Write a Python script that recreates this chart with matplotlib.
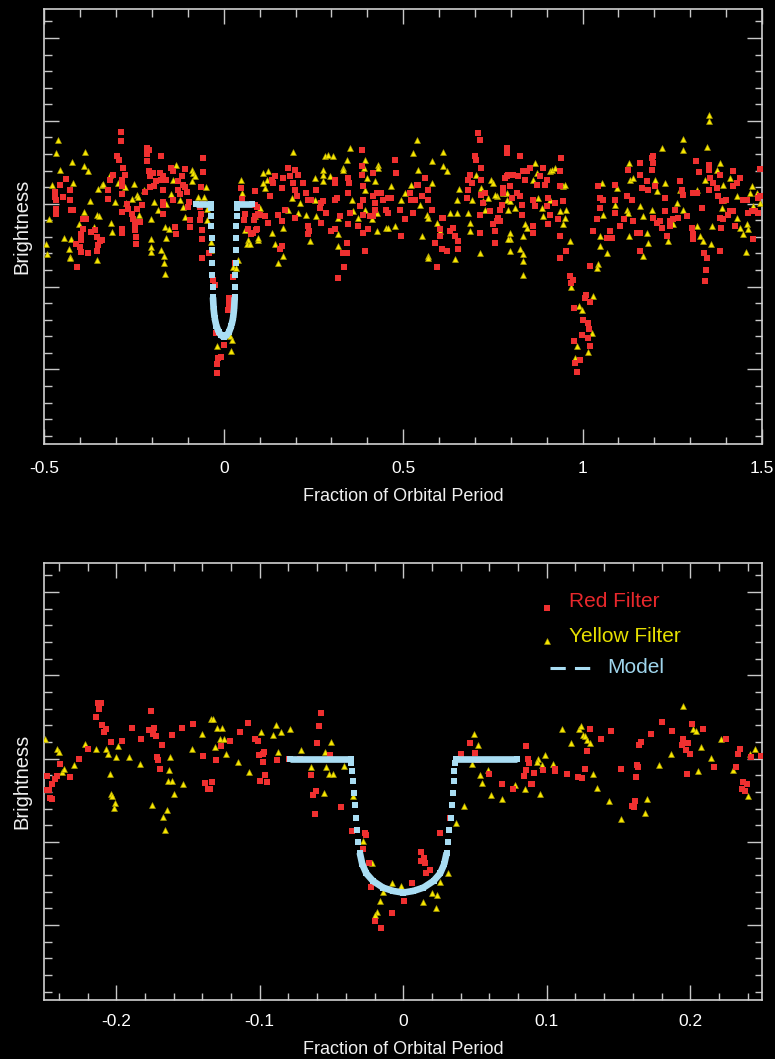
import matplotlib
matplotlib.use('Agg')
import matplotlib.pyplot as plt
import numpy as np
from matplotlib.collections import LineCollection
from matplotlib.ticker import MultipleLocator, FuncFormatter

plt.rcParams['axes.unicode_minus'] = False
REG = ['Liberation Sans', 'DejaVu Sans']

# ---------------- data: top panel (full phase range) ----------------
top_red = [
    (-0.287, 1.086), (-0.287, 1.076), (-0.299, 1.057), (-0.293, 1.053), (-0.215, 1.067), (-0.210, 1.065),
    (-0.213, 1.060), (-0.215, 1.051), (-0.176, 1.058), (-0.059, 1.055), (-0.059, 1.038), (-0.209, 1.040),
    (-0.206, 1.033), (-0.197, 1.037), (-0.178, 1.037), (-0.169, 1.033), (-0.160, 1.029), (-0.147, 1.043),
    (-0.141, 1.040), (-0.109, 1.042), (-0.118, 1.033), (-0.127, 1.027), (-0.109, 1.020), (-0.104, 1.014),
    (-0.098, 1.002), (-0.099, 0.996), (-0.095, 0.980), (-0.095, 0.972), (-0.067, 0.980), (-0.062, 0.968),
    (-0.062, 0.958), (-0.062, 0.934), (-0.042, 0.941), (-0.439, 1.030), (-0.457, 1.023), (-0.471, 1.014),
    (-0.471, 1.008), (-0.467, 1.004), (-0.448, 1.008), (-0.429, 1.016), (-0.428, 1.004), (-0.425, 0.992),
    (-0.420, 0.992), (-0.467, 0.994), (-0.468, 0.988), (-0.392, 0.982), (-0.385, 0.982), (-0.394, 0.970),
    (-0.397, 0.964), (-0.399, 0.956), (-0.411, 0.952), (-0.401, 0.948), (-0.397, 0.942), (-0.378, 0.941),
    (-0.408, 0.924), (-0.369, 0.966), (-0.360, 0.968), (-0.355, 0.960), (-0.346, 0.955), (-0.340, 0.956),
    (-0.350, 0.950), (-0.353, 0.943), (-0.322, 1.006), (-0.322, 1.016), (-0.318, 1.029), (-0.309, 1.035),
    (-0.285, 1.029), (-0.281, 1.043), (-0.276, 1.035), (-0.284, 1.022), (-0.283, 1.012), (-0.271, 1.000),
    (-0.283, 0.990), (-0.267, 0.994), (-0.257, 0.988), (-0.253, 0.982), (-0.248, 0.976), (-0.239, 0.978),
    (-0.234, 0.978), (-0.248, 0.968), (-0.245, 0.960), (-0.245, 0.951), (-0.283, 0.970), (-0.283, 0.965),
    (-0.227, 0.998), (-0.243, 0.994), (-0.220, 1.014), (-0.206, 1.020), (-0.195, 1.022), (-0.188, 1.027),
    (-0.174, 1.029), (-0.169, 1.016), (-0.171, 1.002), (-0.171, 0.988), (-0.169, 0.998), (-0.141, 1.004),
    (-0.137, 0.972), (-0.134, 0.964), (-0.127, 1.016), (-0.123, 1.012), (-0.115, 1.023), (-0.067, 0.996),
    (-0.064, 0.988), (-0.058, 1.000), (-0.064, 1.020),
    (-0.030, 0.908), (-0.025, 0.902), (-0.022, 0.844), (-0.016, 0.814), (-0.020, 0.806), (-0.018, 0.796),
    (-0.009, 0.815), (0.000, 0.830), (0.015, 0.886), (0.013, 0.879), (0.011, 0.872), (0.026, 0.912),
    (0.031, 0.928),
    (0.047, 1.019), (0.086, 1.015), (0.051, 1.006), (0.057, 0.980), (0.059, 0.988), (0.068, 0.969),
    (0.077, 0.964), (0.084, 0.980), (0.089, 0.968), (0.091, 0.996), (0.096, 0.988),
    (0.086, 0.999), (0.086, 0.985), (0.082, 0.965), (0.091, 0.969), (0.100, 0.987), (0.114, 0.985),
    (0.124, 0.977), (0.128, 1.009), (0.133, 1.029), (0.142, 1.033), (0.138, 1.025), (0.161, 1.019),
    (0.165, 1.031), (0.179, 1.043), (0.184, 1.033), (0.193, 1.025), (0.198, 1.017), (0.203, 1.009),
    (0.207, 1.035), (0.198, 1.041), (0.161, 0.979), (0.161, 0.949), (0.156, 0.945), (0.151, 0.987),
    (0.170, 0.993), (0.198, 0.983), (0.221, 1.025), (0.230, 1.013), (0.235, 1.005), (0.244, 1.005),
    (0.258, 1.017), (0.268, 0.995), (0.272, 1.001), (0.277, 1.003), (0.235, 0.973), (0.238, 0.967),
    (0.235, 0.963), (0.272, 0.977), (0.286, 0.989), (0.300, 0.967), (0.309, 1.025), (0.309, 1.029),
    (0.309, 1.005), (0.314, 1.007), (0.309, 0.969), (0.323, 0.985), (0.347, 1.031), (0.349, 1.025),
    (0.347, 1.013), (0.351, 0.989), (0.347, 0.975), (0.342, 0.953), (0.333, 0.941), (0.342, 0.941),
    (0.335, 0.924), (0.319, 0.910), (0.384, 1.065), (0.384, 1.045), (0.384, 1.035), (0.379, 0.997),
    (0.388, 1.005), (0.388, 0.987), (0.393, 0.943), (0.388, 0.965), (0.402, 0.969), (0.375, 0.973),
    (0.407, 0.985), (0.416, 1.037), (0.416, 1.009), (0.421, 1.001), (0.421, 0.993), (0.416, 0.985),
    (0.426, 1.013), (0.439, 1.013), (0.444, 1.005), (0.458, 1.007), (0.467, 1.007), (0.453, 0.993),
    (0.458, 0.989), (0.477, 1.053), (0.481, 1.037), (0.491, 0.993), (0.505, 0.981), (0.495, 0.961),
    (0.519, 1.013), (0.523, 1.005), (0.533, 1.005), (0.528, 0.989), (0.537, 1.023), (0.542, 1.023),
    (0.551, 1.009), (0.560, 1.031), (0.570, 1.017), (0.570, 1.005), (0.579, 0.993), (0.588, 0.953),
    (0.593, 0.924), (0.602, 0.969), (0.607, 0.983), (0.612, 0.983), (0.602, 0.961), (0.607, 0.945),
    (0.621, 0.943), (0.630, 0.967), (0.639, 0.971), (0.644, 0.961), (0.653, 0.955), (0.653, 0.945),
    (0.677, 1.007), (0.681, 1.017), (0.686, 1.035), (0.681, 1.029), (0.691, 1.025), (0.700, 1.057),
    (0.704, 1.053), (0.709, 1.085), (0.714, 1.077), (0.718, 1.043), (0.718, 1.029), (0.728, 1.013),
    (0.718, 1.011), (0.723, 1.001), (0.714, 0.987), (0.742, 0.991), (0.751, 0.975), (0.756, 0.967),
    (0.756, 0.953), (0.760, 0.979), (0.765, 0.983), (0.770, 0.993), (0.774, 0.999), (0.779, 1.019),
    (0.788, 1.033), (0.788, 1.067), (0.788, 1.061), (0.714, 0.965), (0.388, 1.021),
    (0.825, 1.058), (0.783, 1.031), (0.793, 1.035), (0.807, 1.035), (0.821, 1.033), (0.839, 1.029),
    (0.844, 1.039), (0.853, 1.043), (0.835, 1.039), (0.797, 1.021), (0.779, 1.013), (0.770, 0.979),
    (0.802, 1.007), (0.825, 1.009), (0.830, 0.999), (0.830, 0.987), (0.816, 1.013), (0.862, 1.005),
    (0.867, 0.997), (0.862, 0.973), (0.862, 0.965), (0.872, 1.023), (0.881, 1.033), (0.890, 1.043),
    (0.900, 1.029), (0.895, 1.023), (0.904, 1.007), (0.900, 0.997), (0.904, 0.975), (0.909, 0.987),
    (0.923, 1.001), (0.932, 0.981), (0.937, 0.961), (0.941, 1.055), (0.937, 1.039), (0.937, 1.021),
    (0.946, 1.003), (0.955, 0.943), (0.937, 0.935), (1.021, 0.925), (0.965, 0.913), (0.972, 0.908),
    (0.969, 0.904), (1.009, 0.890), (1.007, 0.886), (1.021, 0.881), (0.976, 0.874), (1.002, 0.860),
    (1.016, 0.856), (1.019, 0.849), (0.997, 0.842), (1.016, 0.838), (0.976, 0.834), (1.021, 0.828),
    (0.979, 0.808), (0.983, 0.797), (0.993, 0.812), (1.044, 1.021), (1.048, 1.007), (1.058, 1.005),
    (1.048, 0.995), (1.039, 0.981), (1.030, 0.967), (1.076, 0.967), (1.081, 0.959), (1.067, 0.959),
    (1.090, 1.023), (1.090, 1.005), (1.090, 0.989), (1.104, 0.973), (1.114, 0.981), (1.123, 1.009),
    (1.127, 1.041), (1.137, 1.005), (1.141, 0.979), (1.151, 0.965), (1.160, 0.965), (1.160, 0.943),
    (1.160, 1.049), (1.160, 1.035), (1.165, 1.019), (1.179, 1.027), (1.183, 1.017), (1.193, 1.041),
    (1.193, 1.055), (1.197, 1.049), (1.197, 1.057), (1.202, 1.021), (1.197, 0.983), (1.206, 0.977),
    (1.216, 0.979), (1.220, 0.971), (1.230, 1.007), (1.230, 0.991), (1.234, 0.961), (1.244, 0.973),
    (1.244, 0.979), (1.253, 0.981), (1.258, 0.993), (1.267, 0.983), (1.272, 1.027), (1.276, 1.017),
    (1.281, 1.011), (1.290, 0.985), (1.304, 0.971), (1.309, 0.963), (1.309, 0.957), (1.309, 1.013),
    (1.318, 1.013), (1.316, 1.052), (1.325, 1.038), (1.332, 0.995), (1.338, 0.941), (1.346, 0.935),
    (1.344, 0.920), (1.341, 0.907), (1.351, 1.047), (1.351, 1.041), (1.355, 1.031), (1.351, 1.017),
    (1.364, 1.025), (1.374, 1.019), (1.378, 1.009), (1.383, 1.035), (1.388, 1.003), (1.383, 0.983),
    (1.385, 0.971), (1.383, 0.943), (1.392, 0.981), (1.401, 1.005), (1.406, 0.987), (1.411, 0.991),
    (1.418, 1.039), (1.420, 1.021), (1.420, 0.991), (1.425, 0.973), (1.430, 1.025), (1.439, 1.031),
    (1.448, 1.005), (1.457, 1.005), (1.462, 0.989), (1.471, 0.991), (1.476, 0.957), (1.481, 0.991),
    (1.490, 0.989), (1.490, 1.007), (1.494, 1.009), (1.494, 1.042),
]

top_yellow = [
    (-0.461, 1.077), (-0.469, 1.061), (-0.386, 1.063), (-0.423, 1.050), (-0.457, 1.041), (-0.389, 1.045),
    (-0.378, 1.039), (-0.478, 1.023), (-0.420, 1.025), (-0.487, 0.981), (-0.496, 0.952), (-0.494, 0.939),
    (-0.445, 0.959), (-0.427, 0.958), (-0.431, 0.945), (-0.430, 0.936), (-0.428, 0.934), (-0.405, 0.976),
    (-0.390, 0.990), (-0.372, 1.003), (-0.355, 0.987), (-0.349, 0.985), (-0.350, 1.018), (-0.341, 1.023),
    (-0.336, 1.024), (-0.355, 0.932), (-0.362, 0.972), (-0.318, 1.035), (-0.304, 1.002), (-0.315, 0.977),
    (-0.313, 0.966), (-0.295, 1.025), (-0.276, 1.020), (-0.274, 1.001), (-0.257, 1.006), (-0.250, 1.024),
    (-0.241, 1.010), (-0.236, 0.986), (-0.240, 1.008), (-0.222, 1.017), (-0.204, 0.981), (-0.204, 0.957),
    (-0.202, 0.948), (-0.202, 0.942), (-0.194, 1.002), (-0.183, 0.993), (-0.174, 0.944), (-0.167, 0.937),
    (-0.167, 0.929), (-0.165, 0.915), (-0.163, 0.972), (-0.160, 0.959), (-0.162, 1.000), (-0.152, 0.969),
    (-0.148, 1.012), (-0.141, 1.029), (-0.134, 1.047), (-0.123, 1.004), (-0.115, 0.996), (-0.108, 0.984),
    (-0.090, 1.041), (-0.086, 1.037), (-0.081, 1.033), (-0.090, 1.027), (-0.072, 1.008), (-0.051, 1.020),
    (-0.055, 1.008), (-0.048, 0.980), (-0.046, 0.994), (-0.036, 0.954), (-0.035, 0.944),
    (0.026, 0.924), (0.035, 0.922), (0.040, 0.932), (0.049, 1.029), (0.051, 1.013), (0.060, 0.968),
    (0.068, 0.956), (0.065, 0.952), (0.096, 0.956), (-0.020, 0.828), (0.017, 0.840), (0.021, 0.822),
    (0.024, 0.836), (-0.030, 0.876),
    (0.193, 1.063), (0.282, 1.057), (0.291, 1.059), (0.305, 1.057), (0.351, 1.067), (0.344, 1.053),
    (0.331, 1.043), (0.331, 1.041), (0.277, 1.041), (0.277, 1.035), (0.277, 1.027), (0.110, 1.037),
    (0.124, 1.039), (0.119, 1.029), (0.114, 1.019), (0.110, 1.025), (0.254, 1.031), (0.254, 1.005),
    (0.296, 1.033), (0.393, 1.053), (0.390, 1.043), (0.398, 1.031), (0.393, 1.017), (0.430, 1.047),
    (0.430, 1.043), (0.421, 1.027), (0.393, 0.993), (0.375, 0.983), (0.361, 0.991), (0.356, 1.005),
    (0.319, 0.983), (0.319, 0.963), (0.319, 0.949), (0.258, 0.985), (0.230, 0.987), (0.212, 1.001),
    (0.189, 1.007), (0.207, 0.989), (0.179, 0.993), (0.165, 0.971), (0.142, 0.951), (0.151, 0.929),
    (0.165, 0.937), (0.133, 0.965), (0.096, 0.959), (0.086, 0.985), (0.100, 0.995), (0.072, 0.951),
    (0.240, 0.955), (0.467, 1.021), (0.477, 0.973), (0.453, 0.971), (0.458, 0.971), (0.426, 0.967),
    (0.412, 0.981), (0.426, 0.989), (0.495, 1.005), (0.505, 1.013), (0.537, 1.077), (0.528, 1.061),
    (0.542, 1.041), (0.579, 1.051), (0.579, 1.025), (0.612, 1.063), (0.612, 1.045), (0.621, 1.039),
    (0.523, 1.023), (0.546, 0.999), (0.565, 0.987), (0.570, 0.983), (0.593, 0.977), (0.602, 0.967),
    (0.630, 0.989), (0.649, 0.989), (0.649, 1.005), (0.656, 1.018), (0.681, 0.989), (0.686, 0.977),
    (0.691, 1.005), (0.704, 1.035), (0.718, 1.019), (0.723, 1.003), (0.728, 0.993), (0.737, 1.007),
    (0.746, 1.029), (0.760, 1.009), (0.756, 1.011), (0.686, 0.967), (0.551, 0.961), (0.570, 0.937),
    (0.570, 0.935), (0.644, 0.933), (0.714, 0.941), (0.751, 1.025), (0.788, 1.005), (0.793, 0.993),
    (0.797, 0.957), (0.797, 0.943),
    (0.867, 1.049), (0.862, 1.029), (0.872, 1.037), (0.909, 1.039), (0.914, 1.041), (0.923, 1.043),
    (0.946, 1.021), (0.951, 1.023), (0.788, 1.013), (0.797, 1.003), (0.779, 1.013), (0.811, 0.995),
    (0.839, 0.975), (0.844, 0.971), (0.797, 0.965), (0.793, 0.957), (0.825, 0.945), (0.835, 0.961),
    (0.835, 0.939), (0.833, 0.931), (0.833, 0.914), (0.876, 1.007), (0.886, 0.995), (0.890, 0.985),
    (0.909, 1.005), (0.937, 0.991), (0.951, 0.983), (0.955, 0.993), (0.946, 0.975), (0.965, 0.955),
    (1.030, 0.889), (1.044, 0.927), (1.039, 0.922), (0.990, 0.876), (0.997, 0.872), (0.969, 0.900),
    (0.983, 0.828), (0.979, 0.814), (1.025, 0.844), (1.016, 0.821), (1.048, 0.949), (1.048, 0.961),
    (1.069, 0.941), (1.053, 1.025), (1.095, 1.019), (1.058, 0.987), (1.090, 0.999), (1.123, 0.993),
    (1.127, 0.989), (1.130, 1.049), (1.132, 1.029), (1.141, 1.031), (1.160, 0.997), (1.169, 0.985),
    (1.183, 0.953), (1.169, 0.937), (1.179, 0.965), (1.129, 0.961), (1.193, 0.993), (1.202, 1.029),
    (1.206, 1.015), (1.230, 1.025), (1.220, 1.067), (1.239, 0.955), (1.253, 0.975), (1.262, 1.001),
    (1.279, 1.078), (1.279, 1.065), (1.272, 1.017), (1.281, 0.993), (1.318, 1.017), (1.318, 0.973),
    (1.327, 0.961), (1.335, 0.955), (1.341, 1.029), (1.348, 1.068), (1.352, 1.107), (1.353, 1.100),
    (1.360, 0.973), (1.358, 0.951), (1.374, 1.041), (1.383, 1.049), (1.388, 0.995), (1.390, 1.023),
    (1.411, 1.031), (1.430, 1.009), (1.430, 0.983), (1.439, 0.971), (1.446, 0.963), (1.455, 0.942),
    (1.459, 0.975), (1.462, 0.969), (1.467, 1.013), (1.471, 1.021), (1.476, 0.997), (1.485, 1.013),
    (1.494, 1.001), (1.390, 1.005),
]

# ---------------- data: bottom panel (zoom on primary eclipse) ----------------
zoom_red = [
    (-0.2124, 1.067), (-0.2107, 1.067), (-0.2119, 1.060), (-0.2142, 1.050), (-0.2100, 1.040), (-0.2068, 1.035),
    (-0.2082, 1.032), (-0.2033, 1.020), (-0.1961, 1.021), (-0.2198, 1.012), (-0.2259, 0.999), (-0.2391, 0.993),
    (-0.2324, 0.978), (-0.2480, 0.979), (-0.2426, 0.976), (-0.2410, 0.979), (-0.2445, 0.969), (-0.2491, 0.962),
    (-0.2468, 0.962), (-0.2461, 0.953), (-0.2445, 0.951), (-0.1759, 1.057), (-0.1773, 1.034), (-0.1740, 1.037),
    (-0.1745, 1.029), (-0.1724, 1.027), (-0.1891, 1.037), (-0.1826, 1.024), (-0.1682, 1.016), (-0.1610, 1.028),
    (-0.1542, 1.037), (-0.1463, 1.042), (-0.1717, 1.002), (-0.1707, 0.998), (-0.1693, 0.988), (-0.1396, 1.003),
    (-0.1305, 0.998), (-0.1379, 0.971), (-0.1333, 0.972), (-0.1363, 0.964), (-0.1349, 0.964), (-0.1272, 1.015),
    (-0.1207, 1.021), (-0.1137, 1.032), (-0.1082, 1.043), (-0.1030, 1.024), (-0.1014, 1.021), (-0.1003, 1.004),
    (-0.0979, 1.006), (-0.0968, 1.008), (-0.0977, 0.996), (-0.0996, 0.973), (-0.0963, 0.980), (-0.0949, 0.972),
    (-0.0576, 1.055), (-0.0590, 1.039), (-0.0604, 1.019), (-0.0879, 0.998), (-0.0797, 1.000), (-0.0718, 0.999),
    (-0.0642, 0.980), (-0.0611, 0.961), (-0.0628, 0.956), (-0.0618, 0.934), (-0.0432, 0.942), (-0.0507, 1.004),
    (-0.0355, 0.913), (-0.0269, 0.911), (-0.0258, 0.908), (-0.0283, 0.892), (-0.0241, 0.875), (-0.0227, 0.846),
    (-0.0195, 0.805), (-0.0158, 0.796), (-0.0076, 0.814), (0.0003, 0.829), (0.0063, 0.850), (0.0126, 0.888),
    (0.0142, 0.881), (0.0121, 0.877), (0.0149, 0.874), (0.0161, 0.862), (0.0189, 0.866), (0.0254, 0.911),
    (0.0324, 0.929), (0.0401, 1.006), (0.0468, 1.019), (0.0498, 1.007), (0.0522, 0.998), (0.0598, 0.981),
    (0.0687, 0.969), (0.0766, 0.963),
    (0.0859, 1.015), (0.0868, 1.000), (0.0875, 0.995), (0.0854, 0.986), (0.0840, 0.979), (0.0910, 0.983),
    (0.0887, 0.969), (0.0894, 0.969), (0.0975, 0.986), (0.1057, 0.987), (0.1057, 0.985), (0.1138, 0.981),
    (0.1217, 0.978), (0.1243, 0.977), (0.1266, 0.987), (0.1278, 1.009), (0.1301, 1.035), (0.1375, 1.024),
    (0.1447, 1.033), (0.1515, 0.988), (0.1622, 0.978), (0.1626, 0.992), (0.1638, 0.990), (0.1645, 1.016),
    (0.1657, 1.020), (0.1724, 1.029), (0.1801, 1.044), (0.1871, 1.033), (0.1947, 1.024), (0.1940, 1.016),
    (0.1982, 1.019), (0.1968, 1.010), (0.1999, 1.005), (0.1975, 0.982), (0.2010, 1.041), (0.2087, 1.035),
    (0.2164, 0.990), (0.2248, 1.024), (0.2348, 1.012), (0.2331, 1.006), (0.2317, 0.990), (0.2366, 0.972),
    (0.2394, 0.969), (0.2364, 0.964), (0.2382, 0.961), (0.2422, 1.002), (0.2492, 1.003), (0.1596, 0.943),
    (0.1612, 0.949), (0.1608, 0.942),
]

zoom_yellow = [
    (-0.2494, 1.024), (-0.2412, 1.011), (-0.2396, 1.008), (-0.2375, 0.984), (-0.2361, 0.988), (-0.2294, 0.992),
    (-0.2219, 1.017), (-0.2142, 1.011), (-0.2073, 1.011), (-0.2056, 1.005), (-0.1987, 1.015), (-0.2000, 1.002),
    (-0.1910, 1.002), (-0.1833, 0.994), (-0.2045, 0.981), (-0.2038, 0.958), (-0.2031, 0.955), (-0.2012, 0.947),
    (-0.2019, 0.941), (-0.1754, 0.944), (-0.1677, 0.930), (-0.1649, 0.938), (-0.1661, 0.914), (-0.1624, 1.002),
    (-0.1631, 0.986), (-0.1640, 0.973), (-0.1612, 0.973), (-0.1600, 0.958), (-0.1535, 0.969), (-0.1472, 1.012),
    (-0.1405, 1.029), (-0.1340, 1.047), (-0.1328, 1.047), (-0.1296, 1.037), (-0.1265, 1.037), (-0.1279, 1.024),
    (-0.1247, 1.024), (-0.1310, 1.014), (-0.1233, 1.006), (-0.1151, 0.996), (-0.1072, 0.984), (-0.0989, 1.032),
    (-0.0890, 1.040), (-0.0909, 1.028), (-0.0851, 1.032), (-0.0786, 1.035), (-0.0874, 1.008), (-0.0711, 1.010),
    (-0.0642, 0.990), (-0.0537, 0.990), (-0.0514, 0.982), (-0.0486, 0.982), (-0.0500, 1.020), (-0.0542, 1.008),
    (-0.0553, 0.959), (-0.0348, 0.955), (-0.0416, 0.991), (-0.0281, 0.901), (-0.0216, 0.874), (-0.0162, 0.829),
    (-0.0183, 0.816), (-0.0200, 0.812), (-0.0081, 0.850), (-0.0013, 0.847), (-0.0141, 0.840), (0.0135, 0.828),
    (0.0201, 0.839), (0.0238, 0.836), (0.0226, 0.821), (0.0256, 0.852), (0.0312, 0.862), (0.0370, 0.923),
    (0.0424, 0.943), (0.0496, 1.029), (0.0519, 1.016), (0.0482, 0.994), (0.0533, 0.980), (0.0552, 0.971),
    (0.0591, 0.986), (0.0615, 0.956), (0.0691, 0.952), (0.0777, 0.968),
    (0.1108, 1.036), (0.1168, 1.019), (0.1224, 1.036), (0.1238, 1.039), (0.1254, 1.028), (0.1266, 1.027),
    (0.1282, 1.022), (0.1301, 1.019), (0.0987, 1.004), (0.0940, 1.000), (0.0929, 0.996), (0.0968, 0.992),
    (0.1045, 0.994), (0.0852, 0.963), (0.0954, 0.957), (0.1322, 0.982), (0.1347, 0.965), (0.1433, 0.949),
    (0.1519, 0.928), (0.1699, 0.952), (0.1685, 0.935), (0.1782, 0.992), (0.1866, 1.006), (0.1947, 1.063),
    (0.2022, 1.035), (0.2038, 1.033), (0.2073, 1.014), (0.2054, 0.985), (0.2143, 1.001), (0.2215, 1.023),
    (0.2296, 0.986), (0.2403, 0.955), (0.2417, 1.006), (0.2448, 1.011),
]

# eclipse model (phase, brightness)
model = [
    (-0.079, 1.000), (-0.0366, 1.000), (-0.0362, 0.995), (-0.0357, 0.985), (-0.0351, 0.973), (-0.0344, 0.959),
    (-0.0337, 0.944), (-0.0330, 0.929), (-0.0322, 0.914), (-0.0313, 0.900), (-0.0303, 0.887), (-0.0285, 0.873),
    (-0.0257, 0.862), (-0.0211, 0.853), (-0.0141, 0.845), (-0.0071, 0.841), (0.0000, 0.839), (0.0071, 0.841),
    (0.0141, 0.845), (0.0211, 0.853), (0.0257, 0.862), (0.0285, 0.873), (0.0303, 0.887), (0.0313, 0.900),
    (0.0322, 0.914), (0.0330, 0.929), (0.0337, 0.944), (0.0344, 0.959), (0.0351, 0.973), (0.0357, 0.985),
    (0.0362, 0.995), (0.0366, 1.000), (0.079, 1.000),
]

RED = '#ef3030'
YEL = '#f7e700'
BLUE = '#a9ddf3'

fig = plt.figure(figsize=(7.75, 10.59), dpi=100, facecolor='black')
ax1 = fig.add_axes([0.0574, 0.5807, 0.9258, 0.4108])
ax2 = fig.add_axes([0.0574, 0.0557, 0.9258, 0.4127])


def fmt(v, pos):
    if abs(v) < 1e-9:
        return '0'
    return '%g' % round(v, 6)


def style(ax, xlim, major, minor, pad, xlabelpad):
    ax.set_facecolor('black')
    ax.set_xlim(*xlim)
    ax.set_ylim(0.710, 1.235)
    ax.xaxis.set_major_locator(MultipleLocator(major))
    ax.xaxis.set_minor_locator(MultipleLocator(minor))
    ax.yaxis.set_major_locator(MultipleLocator(0.1))
    ax.yaxis.set_minor_locator(MultipleLocator(0.02))
    ax.xaxis.set_major_formatter(FuncFormatter(fmt))
    ax.tick_params(which='both', direction='in', top=True, right=True, colors='#c8c8c8',
                   labelcolor='white', width=1.0)
    ax.tick_params(which='major', length=10.8, pad=pad, labelsize=12.5, labelfontfamily='Liberation Sans')
    ax.tick_params(which='minor', length=5.4)
    ax.tick_params(axis='y', labelleft=False)
    for s in ax.spines.values():
        s.set_color('#d0d0d0')
        s.set_linewidth(1.2)
    ax.set_xlabel('Fraction of Orbital Period', family=REG, fontsize=13, color='#f0f0f0', labelpad=xlabelpad)
    ax.set_ylabel('Brightness', family=REG, fontsize=14.5, color='#f0f0f0', labelpad=6)


def draw(ax, red, yel):
    yx, yy = zip(*yel)
    rx, ry = zip(*red)
    ax.plot(yx, yy, ls='none', marker='^', ms=5.0, color=YEL, mec='#a89a00', mew=0.4, zorder=3)
    ax.plot(rx, ry, ls='none', marker='s', ms=4.8, color=RED, mew=0, zorder=4)
    mx = np.array([p for p, _ in model])
    my = np.array([b for _, b in model])
    slope = np.abs(np.diff(my) / np.diff(mx))
    segs = [[(mx[i], my[i]), (mx[i + 1], my[i + 1])] for i in range(len(mx) - 1) if slope[i] < 10]
    ax.add_collection(LineCollection(segs, colors=BLUE, linewidths=4.8, capstyle='butt', zorder=5))
    ax.plot(mx, my, ls='none', marker='s', ms=4.5, color=BLUE, mew=0, zorder=5)


style(ax1, (-0.5, 1.5), 0.5, 0.1, 12.4, 8.5)
style(ax2, (-0.25, 0.25), 0.1, 0.02, 9.9, 8.5)
draw(ax1, top_red, top_yellow)
draw(ax2, zoom_red, zoom_yellow)

# legend (bottom panel)
T = ax2.transAxes
ax2.plot([0.700], [0.897], transform=T, marker='s', ms=4.8, color=RED, mew=0, ls='none')
ax2.text(0.731, 0.911, 'Red Filter', transform=T, color='#e8282c', fontsize=15, family=REG, va='center')
ax2.plot([0.700], [0.8215], transform=T, marker='^', ms=5.0, color=YEL, mec='#a89a00', mew=0.4, ls='none')
ax2.text(0.731, 0.8307, 'Yellow Filter', transform=T, color='#e6e000', fontsize=15, family=REG, va='center')
ax2.plot([0.7045, 0.7617], [0.7597, 0.7597], transform=T, color=BLUE, lw=2.2, dashes=(5, 3),
         solid_capstyle='butt', dash_capstyle='butt')
ax2.text(0.784, 0.760, 'Model', transform=T, color='#9fd5ec', fontsize=15, family=REG, va='center')

fig.savefig('out.png', dpi=100, facecolor='black')
